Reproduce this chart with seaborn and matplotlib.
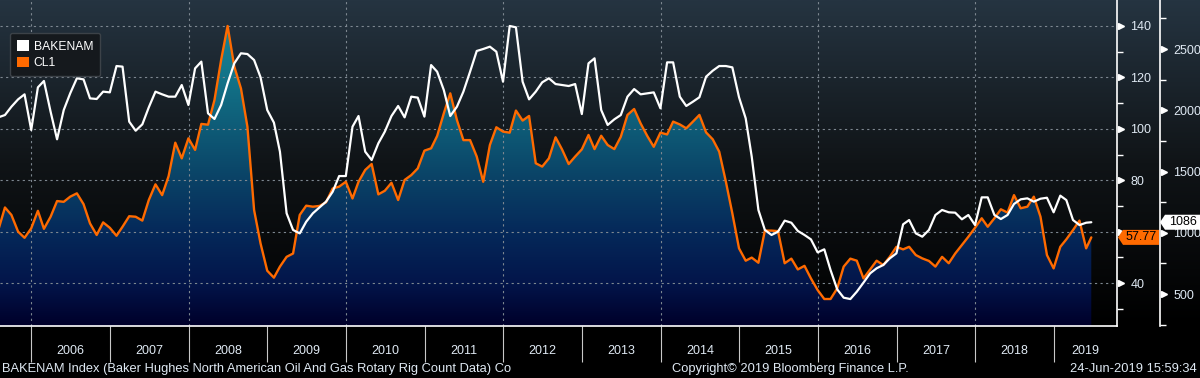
import numpy as np
import pandas as pd
import matplotlib
matplotlib.use("Agg")
import matplotlib.pyplot as plt
import matplotlib.transforms as mtransforms
import seaborn as sns
from matplotlib.colors import LinearSegmentedColormap
from matplotlib.patches import Patch, Polygon

# month-end readings, Jul 2005 .. Jun 2019
cl1 = [
    60.6, 69.4, 66.5, 60.0, 57.6, 61.3,
    68.1, 61.1, 65.8, 71.9, 71.6, 73.6, 74.9, 70.7, 63.2, 58.7, 63.6, 61.5,
    58.4, 61.9, 66.0, 65.8, 64.3, 72.3, 78.4, 74.2, 81.6, 94.6, 88.5, 96.3,
    91.8, 101.9, 101.6, 111.2, 126.8, 140.0, 124.2, 115.7, 100.8, 68.4, 55.4, 44.8,
    42.1, 46.4, 50.2, 51.5, 66.5, 70.1, 69.7, 70.0, 71.4, 76.8, 77.5, 79.4,
    72.9, 79.4, 84.0, 86.3, 74.5, 75.9, 79.0, 72.3, 80.1, 82.0, 84.6, 91.5,
    92.4, 97.2, 106.0, 113.8, 103.4, 95.6, 95.6, 89.2, 79.4, 93.7, 100.6, 98.9,
    98.5, 107.1, 103.2, 105.0, 86.6, 85.3, 88.5, 96.7, 92.0, 86.3, 89.2, 92.0,
    97.6, 92.1, 97.3, 93.7, 92.1, 96.9, 105.4, 107.7, 102.1, 97.2, 93.0, 98.5,
    97.8, 102.8, 101.7, 100.2, 102.8, 105.4, 98.6, 95.9, 91.1, 79.4, 67.1, 53.5,
    48.7, 49.9, 47.9, 60.4, 60.4, 60.2, 47.7, 49.5, 45.3, 46.7, 41.8, 37.3,
    33.8, 33.8, 37.9, 46.4, 49.5, 48.7, 41.8, 45.3, 48.7, 47.0, 50.2, 54.1,
    53.1, 54.1, 50.9, 49.6, 48.6, 46.4, 50.2, 47.7, 51.5, 54.8, 58.0, 61.5,
    65.2, 61.9, 65.2, 68.7, 67.4, 74.2, 69.1, 69.7, 73.6, 65.8, 50.9, 45.7,
    54.1, 57.0, 60.6, 64.3, 53.5, 57.77,
]
bakenam = [
    1942, 1961, 2029, 2089, 2130, 1839,
    2187, 2239, 1988, 1763, 2002, 2138, 2261, 2252, 2097, 2092, 2152, 2146,
    2361, 2356, 1907, 1833, 1885, 2024, 2152, 2130, 2111, 2111, 2206, 2043,
    2342, 2397, 1975, 1929, 2043, 2220, 2383, 2465, 2459, 2410, 2269, 2002,
    1899, 1662, 1159, 1023, 995, 1090, 1159, 1207, 1254, 1335, 1463, 1463,
    1866, 1953, 1662, 1594, 1730, 1825, 1953, 2035, 1942, 2111, 2103, 1948,
    2369, 2315, 2165, 1953, 2029, 2152, 2315, 2484, 2500, 2519, 2478, 2233,
    2688, 2677, 2233, 2089, 2152, 2228, 2261, 2214, 2206, 2198, 2214, 1969,
    2383, 2424, 2002, 1880, 1926, 1961, 2111, 2173, 2130, 2138, 2146, 2016,
    2391, 2391, 2111, 2035, 2070, 2106, 2274, 2323, 2361, 2361, 2350, 2106,
    1934, 1621, 1186, 1023, 982, 1009, 1099, 1082, 1015, 982, 946, 840,
    865, 696, 538, 470, 459, 519, 593, 669, 710, 737, 791, 832,
    1069, 1104, 995, 968, 1023, 1145, 1186, 1167, 1164, 1110, 1145, 1063,
    1289, 1289, 1145, 1112, 1145, 1235, 1273, 1281, 1254, 1278, 1286, 1167,
    1303, 1267, 1104, 1063, 1082, 1086,
]
years = list(range(2006, 2020))
cl1_ticks = [40, 60, 80, 100, 120, 140]
cl1_minor = [30, 50, 70, 90, 110, 130]
bak_ticks = [500, 1000, 1500, 2000, 2500]
bak_minor = [250, 750, 1250, 1750, 2250, 2750]

dates = pd.date_range("2005-07-31", periods=len(cl1) - 1, freq="ME")
dates = dates.append(pd.DatetimeIndex(["2019-06-24"]))
df = pd.DataFrame({"date": dates, "CL1": cl1, "BAKENAM": bakenam})

sns.set_style("ticks")
plt.rcParams["font.family"] = ["Liberation Sans", "DejaVu Sans"]
plt.rcParams["font.size"] = 9

ORANGE = "#ff6a00"
TXT = "#dfe9f3"
x0, x1 = pd.Timestamp("2005-08-08"), pd.Timestamp("2019-10-19")
cl1_lim = (23.3, 150.1)
bak_lim = (239, 2900)

fig = plt.figure(figsize=(12, 3.78), dpi=100, facecolor="black")
bottom = 52 / 378

# background gradient behind plot and axis strip
bg = fig.add_axes([0, bottom, 1, 1 - bottom], zorder=-10)
bg_cmap = LinearSegmentedColormap.from_list("bg", ["#000000", "#101417", "#253441"])
bg.imshow(np.linspace(1, 0, 256).reshape(-1, 1), cmap=bg_cmap, aspect="auto",
          extent=[0, 1, 0, 1])
bg.axis("off")

ax = fig.add_axes([0, bottom, 1116.5 / 1200, 1 - bottom])
ax.patch.set_alpha(0)

# gradient fill under CL1
fill_cmap = LinearSegmentedColormap.from_list(
    "fill",
    [(0, "#00002a"), (0.13, "#03154a"), (0.29, "#05295a"), (0.45, "#0a4266"),
     (0.6, "#0e5a76"), (0.76, "#137388"), (0.92, "#178395"), (1, "#1a8c9e")])
poly = ax.fill_between(df["date"], df["CL1"], cl1_lim[0], color="none", lw=0)
xn0, xn1 = matplotlib.dates.date2num(x0), matplotlib.dates.date2num(x1)
img = ax.imshow(np.linspace(1, 0, 256).reshape(-1, 1), cmap=fill_cmap, aspect="auto",
                extent=[xn0, xn1, cl1_lim[0], cl1_lim[1]], zorder=0.5)
img.set_clip_path(poly.get_paths()[0], ax.transData)

# dotted grid
for v in cl1_ticks:
    ax.axhline(v, color="#7d8790", lw=0.8, ls=(0, (2, 3)), zorder=1)
for y in years[::2]:
    ax.axvline(pd.Timestamp(f"{y}-01-01"), color="#7d8790", lw=0.8, ls=(0, (2, 3)), zorder=1)

sns.lineplot(data=df, x="date", y="CL1", ax=ax, color=ORANGE, linewidth=1.7, zorder=3)

ax.set_xlim(x0, x1)
ax.set_ylim(*cl1_lim)
ax.set_xlabel("")
ax.set_ylabel("")

# x axis: year boundaries and centred labels
bounds = [pd.Timestamp(f"{y}-01-01") for y in years]
ax.set_xticks(bounds)
ax.set_xticklabels([])
mids = [bounds[i] + (bounds[i + 1] - bounds[i]) / 2 for i in range(len(bounds) - 1)]
mids.append(bounds[-1] + (x1 - bounds[-1]) / 2)
ax.set_xticks(mids, minor=True)
ax.set_xticklabels([str(y) for y in years], minor=True)
ax.tick_params(axis="x", which="major", length=26, width=0.8, color="#c8c8c8")
ax.tick_params(axis="x", which="minor", length=0, pad=14, labelcolor=TXT, labelsize=9)

for s in ["top", "left"]:
    ax.spines[s].set_visible(False)
for s in ["bottom", "right"]:
    ax.spines[s].set_color("white")
    ax.spines[s].set_linewidth(1.2)

# BAKENAM axis
ax2 = ax.twinx()
sns.lineplot(data=df, x="date", y="BAKENAM", ax=ax2, color="white", linewidth=1.6, zorder=4)
ax2.set_xlim(x0, x1)
ax2.set_ylim(*bak_lim)
ax2.set_ylabel("")
for s in ["top", "left", "bottom"]:
    ax2.spines[s].set_visible(False)
ax2.spines["right"].set_position(("outward", 31))
ax2.spines["right"].set_color("white")
ax2.spines["right"].set_linewidth(1.2)
ax2.set_yticks(bak_ticks)
ax2.set_yticks(bak_minor, minor=True)
ax2.tick_params(axis="y", which="major", length=0, pad=10, labelcolor=TXT, labelsize=9)
ax2.tick_params(axis="y", which="minor", length=4, width=1, color="white", direction="out")
tri2 = mtransforms.offset_copy(ax2.get_yaxis_transform(), fig=fig, x=47, units="dots")
ax2.plot([1] * len(bak_ticks), bak_ticks, ls="none", marker=">", ms=5, color="white",
         transform=tri2, clip_on=False)

# CL1 axis on the right (twinx moved it to the left)
ax.yaxis.tick_right()
ax.set_yticks(cl1_ticks)
ax.set_yticks(cl1_minor, minor=True)
ax.tick_params(axis="y", which="both", left=False, labelleft=False, right=True, labelright=True)
ax.tick_params(axis="y", which="major", length=0, pad=10, labelcolor=TXT, labelsize=9)
ax.tick_params(axis="y", which="minor", length=4, width=1, color="white", direction="out")
tri1 = mtransforms.offset_copy(ax.get_yaxis_transform(), fig=fig, x=4, units="dots")
ax.plot([1] * len(cl1_ticks), cl1_ticks, ls="none", marker=">", ms=5, color="white",
        transform=tri1, clip_on=False)

# the 60 label sits under the CL1 last-price tag
fig.canvas.draw()
for lab in ax.get_yticklabels():
    if lab.get_text() == "60":
        lab.set_visible(False)

# last value tags
ident = mtransforms.IdentityTransform()


def tag(yval, axis, left, right, face, text):
    ypix = axis.transData.transform((0, yval))[1]
    h = 7.5
    verts = [(left, ypix), (left + 5, ypix + h), (right, ypix + h), (right, ypix - h), (left + 5, ypix - h)]
    fig.add_artist(Polygon(verts, closed=True, facecolor=face, edgecolor="none",
                           transform=ident, zorder=20))
    fig.text((left + 5 + right) / 2 / 1200, ypix / 378, text, ha="center", va="center",
             color="black", fontsize=9, zorder=21)


tag(bakenam[-1], ax2, 1160, 1201, "white", f"{bakenam[-1]}")
tag(cl1[-1], ax, 1118, 1159, ORANGE, f"{cl1[-1]:.2f}")

# legend
handles = [Patch(facecolor="white", edgecolor="none", label="BAKENAM"),
           Patch(facecolor=ORANGE, edgecolor="none", label="CL1")]
leg = fig.legend(handles=handles, loc="upper left", bbox_to_anchor=(10 / 1200, 1 - 33 / 378),
                 borderaxespad=0, frameon=True, fontsize=8.7, handlelength=0.95, handleheight=0.95,
                 handletextpad=0.4, borderpad=0.6, labelspacing=0.35, fancybox=True)
leg.get_frame().set_facecolor("#15191d")
leg.get_frame().set_edgecolor("#3c4248")
leg.get_frame().set_alpha(1)
for t in leg.get_texts():
    t.set_color("white")

# footer
fig.text(2 / 1200, 9 / 378, "BAKENAM Index (Baker Hughes North American Oil And Gas Rotary Rig Count Data) Co",
         ha="left", va="center", color=TXT, fontsize=9.3)
fig.text(790 / 1200, 9 / 378, "Copyright\u00a9 2019 Bloomberg Finance L.P.",
         ha="center", va="center", color=TXT, fontsize=9.3)
fig.text(1197 / 1200, 9 / 378, "24-Jun-2019 15:59:34",
         ha="right", va="center", color=TXT, fontsize=9.3)

fig.savefig("out.png", dpi=100, facecolor="black")
